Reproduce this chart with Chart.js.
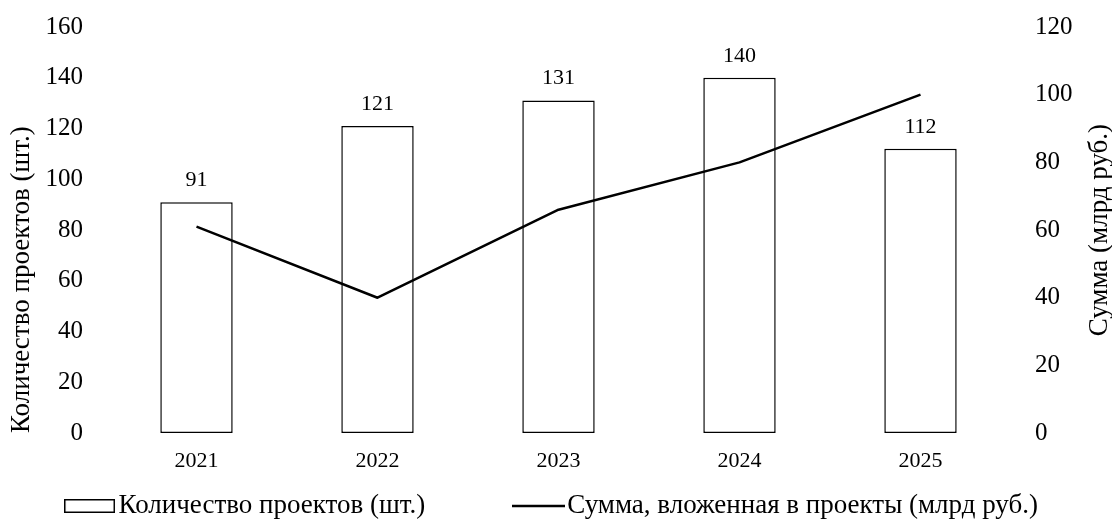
<!DOCTYPE html>
<html>
<head>
<meta charset="utf-8">
<script src="https://cdn.jsdelivr.net/npm/chart.js@4"></script>
<style>
html,body{margin:0;padding:0;background:#fff;}
#wrap{width:1112px;height:520px;}
</style>
</head>
<body>
<div id="wrap"><canvas id="c" width="1112" height="520"></canvas></div>
<script>
const categories = ['2021', '2022', '2023', '2024', '2025'];
const projectCounts = [91, 121, 131, 140, 112];
const investedSums = [61, 40, 66, 80, 100];
const leftTicks = [0, 20, 40, 60, 80, 100, 120, 140, 160];
const rightTicks = [0, 20, 40, 60, 80, 100, 120];
const leftTitle = 'Количество проектов (шт.)';
const rightTitle = 'Сумма (млрд руб.)';

const FONT = '"Liberation Serif", "Times New Roman", serif';
const NB = '\u00A0';

// legend markers
function makeBoxMarker() {
  const c = document.createElement('canvas');
  c.width = 51; c.height = 14;
  const g = c.getContext('2d');
  g.fillStyle = '#fff';
  g.fillRect(0, 0, 51, 14);
  g.strokeStyle = '#000';
  g.lineWidth = 1.5;
  g.strokeRect(0.75, 0.75, 49.5, 12.5);
  return c;
}
function makeLineMarker() {
  const c = document.createElement('canvas');
  c.width = 53; c.height = 4;
  const g = c.getContext('2d');
  g.fillStyle = '#000';
  g.fillRect(0, 0.75, 53, 2.5);
  return c;
}

const extras = {
  id: 'extras',
  afterDatasetsDraw(chart) {
    const meta = chart.getDatasetMeta(0);
    const ctx = chart.ctx;
    ctx.save();
    ctx.font = '22px ' + FONT;
    ctx.fillStyle = '#000';
    ctx.textAlign = 'center';
    ctx.textBaseline = 'bottom';
    meta.data.forEach((el, i) => {
      ctx.fillText(String(projectCounts[i]), el.x, el.y - 11);
    });
    ctx.restore();
  },
  afterDraw(chart) {
    const ctx = chart.ctx;
    const a = chart.chartArea;
    const s = chart.scales.y1;
    ctx.save();
    ctx.font = '27px ' + FONT;
    ctx.fillStyle = '#000';
    ctx.textAlign = 'center';
    ctx.textBaseline = 'middle';
    ctx.translate(s.right - 12, (a.top + a.bottom) / 2);
    ctx.rotate(-Math.PI / 2);
    ctx.fillText(rightTitle, 0, 0);
    ctx.restore();
  }
};

function fixPad(width) {
  return function (s) {
    s.width = width;
    s.paddingTop = 10;
    s.paddingBottom = 10;
  };
}

new Chart(document.getElementById('c'), {
  data: {
    labels: categories,
    datasets: [
      {
        type: 'bar',
        label: leftTitle + NB.repeat(14),
        data: projectCounts,
        backgroundColor: '#ffffff',
        borderColor: '#000000',
        borderWidth: 1.5,
        borderSkipped: false,
        categoryPercentage: 1,
        barPercentage: 0.4,
        yAxisID: 'y',
        pointStyle: makeBoxMarker(),
        order: 2
      },
      {
        type: 'line',
        label: 'Сумма, вложенная в проекты (млрд руб.)',
        data: investedSums,
        borderColor: '#000000',
        backgroundColor: '#000000',
        borderWidth: 2.5,
        pointRadius: 0,
        pointHoverRadius: 0,
        tension: 0,
        borderJoinStyle: 'round',
        fill: false,
        yAxisID: 'y1',
        pointStyle: makeLineMarker(),
        order: 1
      }
    ]
  },
  options: {
    responsive: false,
    animation: false,
    devicePixelRatio: 1,
    layout: { padding: { top: 27, bottom: -9.5, left: 0, right: 0 } },
    plugins: {
      tooltip: { enabled: false },
      legend: {
        position: 'bottom',
        labels: {
          usePointStyle: true,
          pointStyleWidth: 31,
          boxHeight: 13,
          padding: 3,
          color: '#000',
          font: { family: FONT, size: 27 },
          sort: (a, b) => a.datasetIndex - b.datasetIndex
        }
      }
    },
    scales: {
      x: {
        offset: true,
        grid: { display: false, drawTicks: false },
        border: { display: false },
        ticks: { color: '#000', padding: 15, font: { family: FONT, size: 22 } }
      },
      y: {
        position: 'left',
        min: 0,
        max: 160,
        afterFit: fixPad(106),
        afterBuildTicks(s) { s.ticks = leftTicks.map(v => ({ value: v })); },
        grid: { display: false, drawTicks: false },
        border: { display: false },
        ticks: { color: '#000', padding: 23, font: { family: FONT, size: 25 } },
        title: {
          display: true,
          text: leftTitle,
          color: '#000',
          align: 'start',
          padding: { top: 8.5, bottom: 0 },
          font: { family: FONT, size: 27, lineHeight: 1 }
        }
      },
      y1: {
        position: 'right',
        min: 0,
        max: 120,
        afterFit: fixPad(101),
        afterBuildTicks(s) { s.ticks = rightTicks.map(v => ({ value: v })); },
        grid: { display: false, drawTicks: false },
        border: { display: false },
        ticks: { color: '#000', padding: 24, font: { family: FONT, size: 25 } },
        title: { display: false }
      }
    }
  },
  plugins: [extras]
});
</script>
</body>
</html>
